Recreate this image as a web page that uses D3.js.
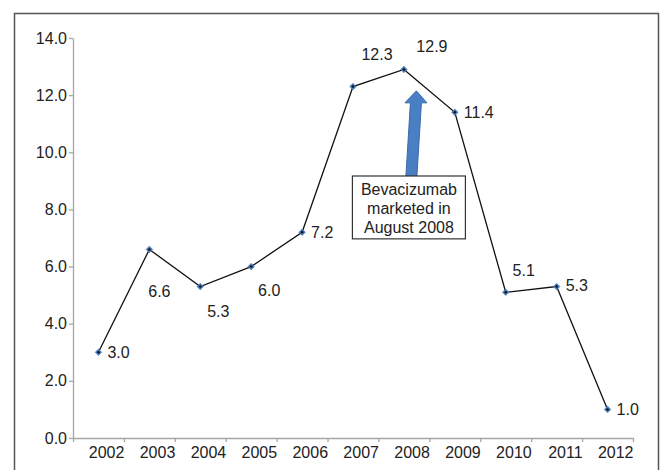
<!DOCTYPE html>
<html>
<head>
<meta charset="utf-8">
<script src="https://cdn.jsdelivr.net/npm/d3@7"></script>
<style>
    body { margin: 0; background: #fff; }
    text { font-family: Arial, "Liberation Sans", sans-serif; fill: #222; }
</style>
</head>
<body>
<svg id="chart" width="660" height="470"></svg>
<script>
// values
const years = [2002, 2003, 2004, 2005, 2006, 2007, 2008, 2009, 2010, 2011, 2012];
const rates = [3.0, 6.6, 5.3, 6.0, 7.2, 12.3, 12.9, 11.4, 5.1, 5.3, 1.0];
const yTicks = [0, 2, 4, 6, 8, 10, 12, 14];
const noteLines = ["Bevacizumab", "marketed in", "August 2008"];

// where each value label sits relative to its point
const labelPos = [
    {a: "start", dx: 9, dy: 0}, {a: "middle", dx: 10, dy: 42}, {a: "middle", dx: 18, dy: 25},
    {a: "middle", dx: 18, dy: 24}, {a: "start", dx: 9, dy: 0}, {a: "middle", dx: 24, dy: -32},
    {a: "middle", dx: 28, dy: -23}, {a: "start", dx: 9, dy: 0}, {a: "middle", dx: 18, dy: -22},
    {a: "start", dx: 9, dy: -1}, {a: "start", dx: 9, dy: 0}
];

const fontSize = "16px";
const svg = d3.select("#chart");

// outer frame
svg.append("rect")
    .attr("x", 14.5).attr("y", 13.5)
    .attr("width", 644).attr("height", 500)
    .attr("fill", "none").attr("stroke", "#555").attr("stroke-width", 1.5);

const mLeft = 73, mRight = 633, mTop = 38, mBottom = 438;

const x = d3.scaleBand().domain(years).range([mLeft, mRight]).padding(0);
const xi = d3.scaleLinear().domain([0, years.length]).range([mLeft, mRight]);
const y = d3.scaleLinear().domain([0, 14]).range([mBottom, mTop]);
const cx = d => x(d) + x.bandwidth() / 2;

// y axis
const gy = svg.append("g")
    .attr("transform", "translate(" + mLeft + ",0)")
    .call(d3.axisLeft(y).tickValues(yTicks).tickFormat(d3.format(".1f")).tickSize(4).tickSizeOuter(0));
// x axis, ticks at the band edges
const gx = svg.append("g")
    .attr("transform", "translate(0," + mBottom + ")")
    .call(d3.axisBottom(xi).tickValues(d3.range(0, years.length + 1))
        .tickFormat(i => i > 0 ? years[i - 1] : "").tickSize(4).tickSizeOuter(0));

[gx, gy].forEach(g => {
    g.selectAll("path, line").attr("stroke", "#a6a6a6").attr("stroke-width", 1.3);
    g.selectAll("text").style("font-size", fontSize).style("font-family", "Arial, 'Liberation Sans', sans-serif").attr("fill", "#222");
});
gy.selectAll("text").attr("x", -6);
gx.selectAll("text").attr("text-anchor", "end").attr("y", 9).attr("dy", "0.71em");

// line
const line = d3.line().x((d, i) => cx(years[i])).y(d => y(d));
svg.append("path")
    .datum(rates)
    .attr("d", line)
    .attr("fill", "none")
    .attr("stroke", "#111")
    .attr("stroke-width", 1.3);

// markers: small square diamonds with a dark centre
const pts = svg.selectAll(".pt").data(rates).enter().append("g")
    .attr("class", "pt")
    .attr("transform", (d, i) => "translate(" + cx(years[i]) + "," + y(d) + ")");
pts.append("path")
    .attr("d", d3.symbol().type(d3.symbolSquare).size(22))
    .attr("transform", "rotate(45)")
    .attr("fill", "#4a7fc4").attr("stroke", "#3b6fb5").attr("stroke-width", 0.5);
pts.append("circle").attr("r", 1.3).attr("fill", "#111");

// value labels
svg.selectAll(".vl").data(rates).enter().append("text")
    .attr("class", "vl")
    .attr("x", (d, i) => cx(years[i]) + labelPos[i].dx)
    .attr("y", (d, i) => y(d) + labelPos[i].dy)
    .attr("dy", "0.35em")
    .attr("text-anchor", (d, i) => labelPos[i].a)
    .style("font-size", fontSize)
    .text(d => d3.format(".1f")(d));

// annotation box and arrow near 2008
const bx = cx(2008) + 5;
const boxTop = y(9.17), boxBottom = y(6.97), boxW = 113;
const tipY = y(12.15), headY = tipY + 12;
const arrow = [
    [bx + 2.5 - 5.5, boxTop], [bx + 7 - 5.5, headY], [bx + 7 - 11, headY],
    [bx + 7.5, tipY],
    [bx + 7 + 11, headY], [bx + 7 + 5.5, headY], [bx + 2.5 + 5.5, boxTop]
];
svg.append("path")
    .attr("d", "M" + arrow.join("L") + "Z")
    .attr("fill", "#4a7fc4").attr("stroke", "#3a6aa8").attr("stroke-width", 1);

svg.append("rect")
    .attr("x", bx - boxW / 2).attr("y", boxTop)
    .attr("width", boxW).attr("height", boxBottom - boxTop)
    .attr("fill", "#fff").attr("stroke", "#333").attr("stroke-width", 1.2);

svg.selectAll(".note").data(noteLines).enter().append("text")
    .attr("class", "note")
    .attr("x", bx)
    .attr("y", (d, i) => boxTop + 13 + i * 19)
    .attr("dy", "0.35em")
    .attr("text-anchor", "middle")
    .style("font-size", fontSize)
    .text(d => d);
</script>
</body>
</html>
